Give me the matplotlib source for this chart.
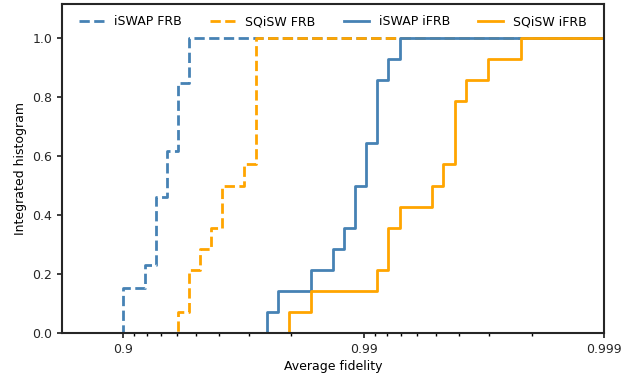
import numpy as np
import matplotlib
matplotlib.use("Agg")
from matplotlib import pyplot as plt
from matplotlib import ticker

# fidelities per benchmark run (one entry per run)
iswap_frb = [0.8994, 0.8994, 0.9188, 0.9267, 0.9267, 0.9267, 0.9342, 0.9342,
             0.9408, 0.9408, 0.9408, 0.9467, 0.9467]
sqisw_frb = [0.9408, 0.9467, 0.9467, 0.9520, 0.9568, 0.9612, 0.9612, 0.9686,
             0.9718, 0.9718, 0.9718, 0.9718, 0.9718, 0.9718]
iswap_ifrb = [0.9747, 0.9772, 0.9834, 0.9866, 0.9879, 0.9891, 0.9891, 0.9902,
              0.9902, 0.9912, 0.9912, 0.9912, 0.9921, 0.9929]
sqisw_ifrb = [0.9795, 0.9834, 0.9912, 0.9921, 0.9921, 0.9929, 0.99480, 0.99533,
              0.99582, 0.99582, 0.99582, 0.99624, 0.99696, 0.99779]

labels = ["iSWAP FRB", "SQiSW FRB", "iSWAP iFRB", "SQiSW iFRB"]
colours = ["steelblue", "orange", "steelblue", "orange"]
styles = ["--", "--", "-", "-"]

fmin, fmax = 0.82, 0.999


def nines(f):
    return -np.log10(np.clip(1 - np.asarray(f, dtype=float), 1e-12, None))


def unnines(d):
    return 1 - 10 ** (-np.asarray(d, dtype=float))


plt.rcParams["font.size"] = 9
fig = plt.figure(figsize=(6.38, 3.76), dpi=100)
ax = fig.add_axes([0.0972, 0.1144, 0.8498, 0.8746])
ax.set_xscale("function", functions=(nines, unnines))

for data, lab, col, ls in zip([iswap_frb, sqisw_frb, iswap_ifrb, sqisw_ifrb], labels, colours, styles):
    xs = np.sort(data)
    frac = np.arange(1, len(xs) + 1) / len(xs)
    x = np.concatenate([[fmin], xs, [fmax]])
    y = np.concatenate([[0], frac, [1]])
    ax.step(x, y, where="post", color=col, ls=ls, lw=2, label=lab)

ax.set_xlim(fmin, fmax)
ax.set_ylim(0, 1.115)
ax.xaxis.set_major_locator(ticker.FixedLocator([0.9, 0.99, 0.999]))
ax.xaxis.set_major_formatter(ticker.FixedFormatter(["0.9", "0.99", "0.999"]))
minors = [1 - k * 10.0 ** -m for m in (2, 3) for k in range(2, 10)]
ax.xaxis.set_minor_locator(ticker.FixedLocator(minors))
ax.xaxis.set_minor_formatter(ticker.NullFormatter())
ax.set_yticks(np.arange(0, 1.01, 0.2))

for sp in ax.spines.values():
    sp.set_linewidth(1.5)
    sp.set_color("#262626")
ax.tick_params(colors="#262626", width=1.25)
ax.tick_params(which="minor", width=1.0)

ax.set_xlabel("Average fidelity", labelpad=3)
ax.set_ylabel("Integrated histogram")
ax.legend(loc="upper center", ncol=4, frameon=False, columnspacing=2.25)

fig.savefig("out.png", dpi=100)
